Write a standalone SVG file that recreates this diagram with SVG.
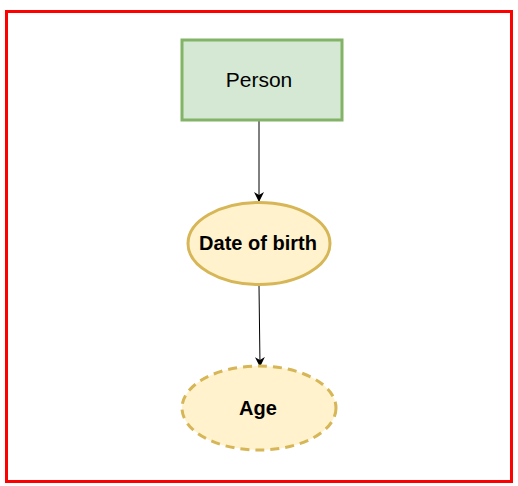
<svg xmlns="http://www.w3.org/2000/svg" width="518" height="486" viewBox="0 0 518 486">
<defs>
<style>
.lbl{font-family:"Liberation Sans",Arial,sans-serif;fill:#000;text-anchor:middle;dominant-baseline:central}
.edge{stroke:#000;stroke-width:1;fill:none}
</style>
<marker id="arr" viewBox="0 0 10 10" refX="9" refY="5" markerWidth="10" markerHeight="10" markerUnits="userSpaceOnUse" orient="auto">
<path d="M0,0 L10,5 L0,10 L3,5 Z" fill="#000"/>
</marker>
</defs>
<rect x="0" y="0" width="518" height="486" fill="#fff"/>
<rect x="6.5" y="11.5" width="505" height="470" fill="none" stroke="#ff0000" stroke-width="3"/>
<g id="connectors">
<path class="edge" d="M259,121 L259,201" marker-end="url(#arr)"/>
<path class="edge" d="M259,286 L260,366" marker-end="url(#arr)"/>
</g>
<g id="person">
<rect x="182" y="40" width="160" height="80" fill="#d5e8d4" stroke="#82b366" stroke-width="3"/>
<text class="lbl" x="259" y="79" font-size="21">Person</text>
</g>
<g id="dob">
<ellipse cx="259" cy="243.5" rx="71" ry="41" fill="#fff2cc" stroke="#d6b656" stroke-width="3"/>
<text class="lbl" x="258" y="243" font-size="20" font-weight="bold">Date of birth</text>
</g>
<g id="age">
<ellipse cx="259" cy="408" rx="77" ry="42" fill="#fff2cc" stroke="#d6b656" stroke-width="3" stroke-dasharray="9 6"/>
<text class="lbl" x="258" y="408" font-size="20" font-weight="bold">Age</text>
</g>
</svg>
